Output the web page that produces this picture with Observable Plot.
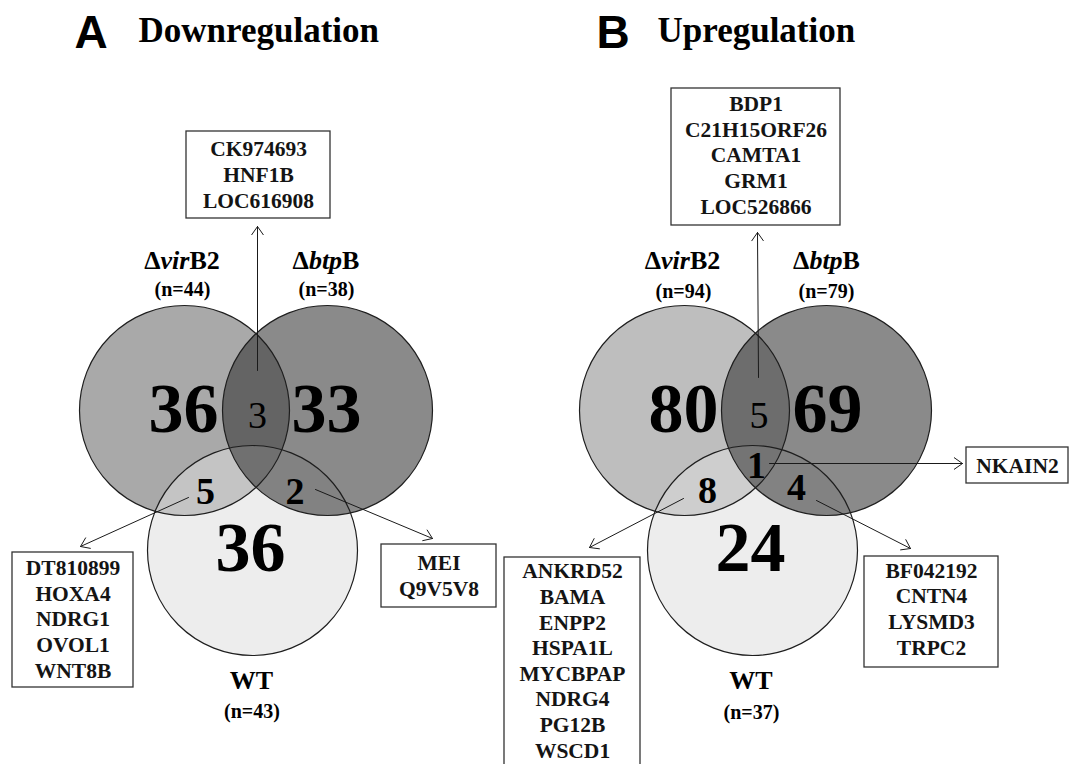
<!DOCTYPE html>
<html>
<head>
<meta charset="utf-8">
<script src="https://cdn.jsdelivr.net/npm/d3@7"></script>
<script src="https://cdn.jsdelivr.net/npm/@observablehq/plot@0.6"></script>
<style>
  body { margin: 0; background: #fff; }
  #chart svg { display: block; }
</style>
</head>
<body>
<div id="chart"></div>
<script>
// ================= DATA =================
const panels = ["A", "B"];
const panelTitles = ["Downregulation", "Upregulation"];
const setKeys = ["virB2", "btpB", "WT"];
const setNameParts = [["Δ", "vir", "B2"], ["Δ", "btp", "B"], ["", "", "WT"]];
const setTotalsDown = [44, 38, 43];
const setTotalsUp = [94, 79, 37];
const regionKeys = ["virB2", "btpB", "WT", "virB2&btpB", "virB2&WT", "btpB&WT", "all"];
const regionCountsDown = [36, 33, 36, 3, 5, 2, null];
const regionCountsUp = [80, 69, 24, 5, 8, 4, 1];
const genesDown_virB2_btpB = ["CK974693", "HNF1B", "LOC616908"];
const genesDown_virB2_WT = ["DT810899", "HOXA4", "NDRG1", "OVOL1", "WNT8B"];
const genesDown_btpB_WT = ["MEI", "Q9V5V8"];
const genesUp_virB2_btpB = ["BDP1", "C21H15ORF26", "CAMTA1", "GRM1", "LOC526866"];
const genesUp_virB2_WT = ["ANKRD52", "BAMA", "ENPP2", "HSPA1L", "MYCBPAP", "NDRG4", "PG12B", "WSCD1"];
const genesUp_btpB_WT = ["BF042192", "CNTN4", "LYSMD3", "TRPC2"];
const genesUp_all = ["NKAIN2"];

const countsByPanel = {A: regionCountsDown, B: regionCountsUp};
const totalsByPanel = {A: setTotalsDown, B: setTotalsUp};
const genesByPanel = {
  A: {"virB2&btpB": genesDown_virB2_btpB, "virB2&WT": genesDown_virB2_WT, "btpB&WT": genesDown_btpB_WT},
  B: {"virB2&btpB": genesUp_virB2_btpB, "virB2&WT": genesUp_virB2_WT, "btpB&WT": genesUp_btpB_WT, "all": genesUp_all}
};

// ================= LAYOUT (positions in the plot's x/y units) =================
const layout = {
  A: {
    letter: [90.5, 47], title: [138, 41],
    circle: {virB2: [184, 410], btpB: [327, 410], WT: [252, 550]},
    name: {virB2: [181.5, 268], btpB: [325.5, 268], WT: [251, 688]},
    total: {virB2: [182, 295], btpB: [326, 295], WT: [251.5, 717]},
    count: {virB2: [183, 431], btpB: [326, 431], WT: [250, 570],
            "virB2&btpB": [257, 427], "virB2&WT": [205, 503], "btpB&WT": [294.5, 503]},
    box: {
      "virB2&btpB": {x1: 186, x2: 330, y1: 131, y2: 218, tx: 258, ty: 207, a: [257, 370, 257, 226]},
      "virB2&WT": {x1: 12, x2: 133, y1: 552, y2: 687, tx: 72.5, ty: 677, a: [188, 497, 80, 546]},
      "btpB&WT": {x1: 381, x2: 496, y1: 544, y2: 607, tx: 438.5, ty: 595, a: [315, 489, 432, 538]}
    }
  },
  B: {
    letter: [612.5, 47], title: [657, 41],
    circle: {virB2: [684, 410], btpB: [826, 410], WT: [752, 550]},
    name: {virB2: [682, 268], btpB: [826, 268], WT: [750.5, 688]},
    total: {virB2: [683, 297], btpB: [826, 297], WT: [751, 718]},
    count: {virB2: [683, 431], btpB: [827, 431], WT: [750, 570],
            "virB2&btpB": [758.5, 427], "virB2&WT": [707, 502], "btpB&WT": [796, 499], all: [756, 477]},
    box: {
      "virB2&btpB": {x1: 671, x2: 840, y1: 88, y2: 225, tx: 755.5, ty: 213, a: [758, 377, 757, 232]},
      "virB2&WT": {x1: 504, x2: 640, y1: 557, y2: 780, tx: 572, ty: 757, a: [683, 498, 589, 547]},
      "btpB&WT": {x1: 864, x2: 998, y1: 556, y2: 667, tx: 931, ty: 654, a: [816, 500, 910, 548]},
      "all": {x1: 966, x2: 1068, y1: 447, y2: 483, tx: 1017, ty: 472, a: [769, 463, 962, 463]}
    }
  }
};
const R = 105;
const virFill = {A: "#a9a9a9", B: "#bebebe"};
const serif = "'Liberation Serif', 'Times New Roman', serif";
const sans = "'Liberation Sans', Arial, sans-serif";

// ================= TABLES =================
const circles = [];
const names = [];
const totals = [];
const bigCounts = [], smallBold = [], smallNormal = [];
const boxes = [];
const titles = [], letters = [];
panels.forEach((p, pi) => {
  const L = layout[p];
  letters.push({x: L.letter[0], y: L.letter[1], text: p});
  titles.push({x: L.title[0], y: L.title[1], text: panelTitles[pi]});
  setKeys.forEach((k, ki) => {
    circles.push({panel: p, key: k, x: L.circle[k][0], y: L.circle[k][1], fill: virFill[p]});
    names.push({x: L.name[k][0], y: L.name[k][1], parts: setNameParts[ki], text: setNameParts[ki].join("")});
    totals.push({x: L.total[k][0], y: L.total[k][1], text: `(n=${totalsByPanel[p][ki]})`});
  });
  regionKeys.forEach((rk, ri) => {
    const v = countsByPanel[p][ri];
    if (v == null) return;
    const pos = L.count[rk];
    const row = {x: pos[0], y: pos[1], text: String(v)};
    if (ri < 3) bigCounts.push(row);
    else if (rk === "virB2&btpB") smallNormal.push(row);
    else smallBold.push(row);
  });
  Object.entries(genesByPanel[p]).forEach(([rk, genes]) => {
    const b = L.box[rk];
    boxes.push({...b, ax1: b.a[0], ay1: b.a[1], ax2: b.a[2], ay2: b.a[3], text: genes.join("\n")});
  });
});

// ================= PLOT =================
const chart = Plot.plot({
  width: 1070,
  height: 764,
  margin: 0,
  x: {domain: [0, 1070], range: [0, 1070], axis: null},
  y: {domain: [0, 764], range: [0, 764], axis: null},
  style: {background: "#fff"},
  marks: [
    Plot.dot(circles.filter(d => d.key === "virB2"), {x: "x", y: "y", r: R, fill: "fill", stroke: null}),
    Plot.dot(circles.filter(d => d.key === "WT"), {x: "x", y: "y", r: R, fill: "rgb(221,221,221)", fillOpacity: 0.523}),
    Plot.dot(circles.filter(d => d.key === "btpB"), {x: "x", y: "y", r: R, fill: "rgb(45,45,45)", fillOpacity: 0.558}),
    Plot.dot(circles, {x: "x", y: "y", r: R, fill: "none", stroke: "#1e1e1e", strokeWidth: 1.2}),
    Plot.text(bigCounts, {x: "x", y: "y", text: "text", lineAnchor: "bottom", fontSize: 70, fontWeight: "bold", fontFamily: serif, fill: "#000"}),
    Plot.text(smallBold, {x: "x", y: "y", text: "text", lineAnchor: "bottom", fontSize: 38, fontWeight: "bold", fontFamily: serif, fill: "#000"}),
    Plot.text(smallNormal, {x: "x", y: "y", text: "text", lineAnchor: "bottom", fontSize: 38, fontWeight: "normal", fontFamily: serif, fill: "#000"}),
    Plot.arrow(boxes, {x1: "ax1", y1: "ay1", x2: "ax2", y2: "ay2", stroke: "#1a1a1a", strokeWidth: 1, headLength: 15, headAngle: 70}),
    Plot.rect(boxes, {x1: "x1", x2: "x2", y1: "y1", y2: "y2", fill: "#fff", stroke: "#333", strokeWidth: 1.3}),
    Plot.text(boxes, {x: "tx", y: "ty", text: "text", lineAnchor: "bottom", lineHeight: 25 / 21, fontSize: 21.5, fontWeight: "bold", fontFamily: serif, fill: "#141414"}),
    Plot.text(names, {x: "x", y: "y", text: "text", lineAnchor: "bottom", fontSize: 26, fontWeight: "bold", fontFamily: serif, fill: "#000"}),
    Plot.text(totals, {x: "x", y: "y", text: "text", lineAnchor: "bottom", fontSize: 20, fontWeight: "bold", fontFamily: serif, fill: "#000"}),
    Plot.text(letters, {x: "x", y: "y", text: "text", lineAnchor: "bottom", fontSize: 46, fontWeight: "bold", fontFamily: sans, fill: "#000"}),
    Plot.text(titles, {x: "x", y: "y", text: "text", lineAnchor: "bottom", textAnchor: "start", fontSize: 35, fontWeight: "bold", fontFamily: serif, fill: "#000"})
  ]
});

// italicise the gene-name part of the strain labels (ΔvirB2, ΔbtpB)
const NS = "http://www.w3.org/2000/svg";
const nameParts = new Map(names.map(d => [d.text, d.parts]));
chart.querySelectorAll("text").forEach(t => {
  const parts = nameParts.get(t.textContent);
  if (!parts || !parts[1]) return;
  while (t.firstChild) t.removeChild(t.firstChild);
  parts.forEach((s, j) => {
    if (!s) return;
    const ts = document.createElementNS(NS, "tspan");
    ts.textContent = s;
    if (j === 1) ts.setAttribute("font-style", "italic");
    t.appendChild(ts);
  });
});

document.getElementById("chart").appendChild(chart);
</script>
</body>
</html>
